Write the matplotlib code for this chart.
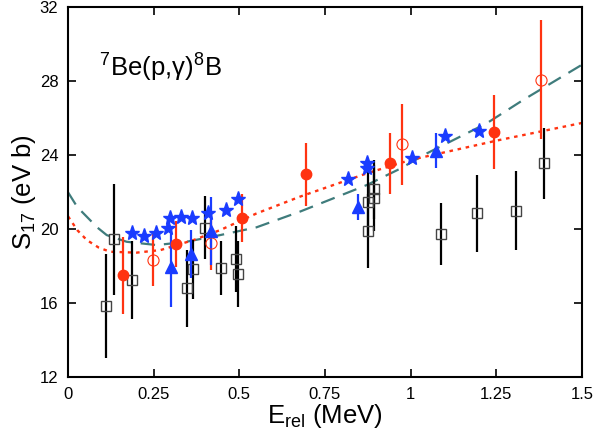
import matplotlib
matplotlib.use("Agg")
import matplotlib.pyplot as plt

plt.rcParams['font.family'] = ['Liberation Sans', 'DejaVu Sans']

# black open squares
sq_E = [0.111, 0.134, 0.186, 0.348, 0.364, 0.401, 0.446, 0.489, 0.495,
        0.875, 0.875, 0.893, 0.893, 1.088, 1.195, 1.307, 1.390]
sq_S = [15.84, 19.45, 17.25, 16.8, 17.84, 20.08, 17.91, 18.38, 17.57,
        19.92, 21.49, 22.16, 21.7, 19.74, 20.86, 21.0, 23.56]
sq_err = [2.8, 3.0, 2.1, 2.1, 1.6, 1.7, 1.45, 1.8, 1.8,
          2.0, 1.9, 1.6, 1.8, 1.7, 2.1, 2.15, 1.9]

# red filled circles
rf_E = [0.16, 0.314, 0.507, 0.694, 0.94, 1.243]
rf_S = [17.5, 19.2, 20.62, 22.97, 23.56, 25.24]
rf_err = [2.1, 1.25, 1.3, 1.7, 1.65, 2.0]

# red open circles
ro_E = [0.249, 0.416, 0.976, 1.382]
ro_S = [18.33, 19.27, 24.59, 28.1]
ro_err = [1.4, 1.5, 2.2, 3.2]

# blue triangles
tr_E = [0.302, 0.358, 0.416, 0.847, 1.074]
tr_S = [17.93, 18.65, 19.9, 21.22, 24.25]
tr_err = [2.15, 1.3, 1.85, 0.7, 0.95]

# blue stars
st_E = [0.186, 0.223, 0.257, 0.291, 0.298, 0.329, 0.361, 0.409, 0.461, 0.497,
        0.816, 0.873, 0.873, 1.003, 1.1, 1.2]
st_S = [19.78, 19.64, 19.78, 20.05, 20.62, 20.67, 20.62, 20.89, 21.04, 21.62,
        22.7, 23.56, 23.29, 23.84, 25.04, 25.31]

# theory curves
dash_E = [0, 0.027, 0.055, 0.085, 0.113, 0.171, 0.259, 0.346, 0.444, 0.55,
          0.677, 0.872, 0.969, 1.047, 1.222, 1.329, 1.5]
dash_S = [22.0, 21.2, 20.67, 20.1, 19.68, 19.32, 19.14, 19.32, 19.68, 20.1,
          20.95, 22.39, 23.27, 24.1, 25.73, 27.0, 28.9]
dot_E = [0, 0.027, 0.055, 0.09, 0.123, 0.2, 0.27, 0.366, 0.444, 0.55, 0.677,
         0.872, 0.998, 1.26, 1.5]
dot_S = [20.7, 19.95, 19.41, 19.0, 18.78, 18.73, 18.87, 19.41, 19.95, 20.85,
         21.76, 23.02, 23.74, 24.83, 25.75]

red = '#ff3311'
blue = '#1a3cff'
teal = '#3f7c7c'

fig = plt.figure(figsize=(5.95, 4.38), dpi=100)
ax = fig.add_axes([0.1143, 0.1393, 0.8637, 0.8436])

ax.plot(dash_E, dash_S, color=teal, lw=1.6, dashes=(6.5, 4))
ax.plot(dot_E, dot_S, color=red, lw=1.7, dashes=(1.5, 2))

ax.errorbar(sq_E, sq_S, yerr=sq_err, fmt='s', ms=7, mfc='none', mec='#444444',
            mew=1.0, ecolor='black', elinewidth=1.6, capsize=0, zorder=3)
ax.errorbar(rf_E, rf_S, yerr=rf_err, fmt='o', ms=7.5, color=red,
            elinewidth=1.6, capsize=0, zorder=4)
ax.errorbar(ro_E, ro_S, yerr=ro_err, fmt='o', ms=8, mfc='none', mec=red,
            mew=0.8, ecolor=red, elinewidth=1.6, capsize=0, zorder=4)
ax.errorbar(tr_E, tr_S, yerr=tr_err, fmt='^', ms=9, color=blue,
            elinewidth=1.6, capsize=0, zorder=4)
ax.plot(st_E, st_S, '*', ms=11, color=blue, zorder=5)

ax.set_xlim(0, 1.5)
ax.set_ylim(12, 32)
ax.set_xticks([0, 0.25, 0.5, 0.75, 1, 1.25, 1.5])
ax.set_xticklabels(['0', '0.25', '0.5', '0.75', '1', '1.25', '1.5'])
ax.set_yticks([12, 16, 20, 24, 28, 32])
ax.tick_params(direction='in', length=6, width=1.2, top=True, right=True,
               labelsize=12, pad=7)
for s in ax.spines.values():
    s.set_linewidth(1.5)

ax.set_xlabel(r'E$_{\mathregular{rel}}$ (MeV)', fontsize=18.5, labelpad=0)
ax.set_ylabel(r'S$_{\mathregular{17}}$ (eV b)', fontsize=18.5, labelpad=1)
ax.text(0.09, 28.8, r'$^{\mathregular{7}}$Be(p,γ)$^{\mathregular{8}}$B',
        fontsize=18.5, va='center')

fig.savefig('out.png', dpi=100)
